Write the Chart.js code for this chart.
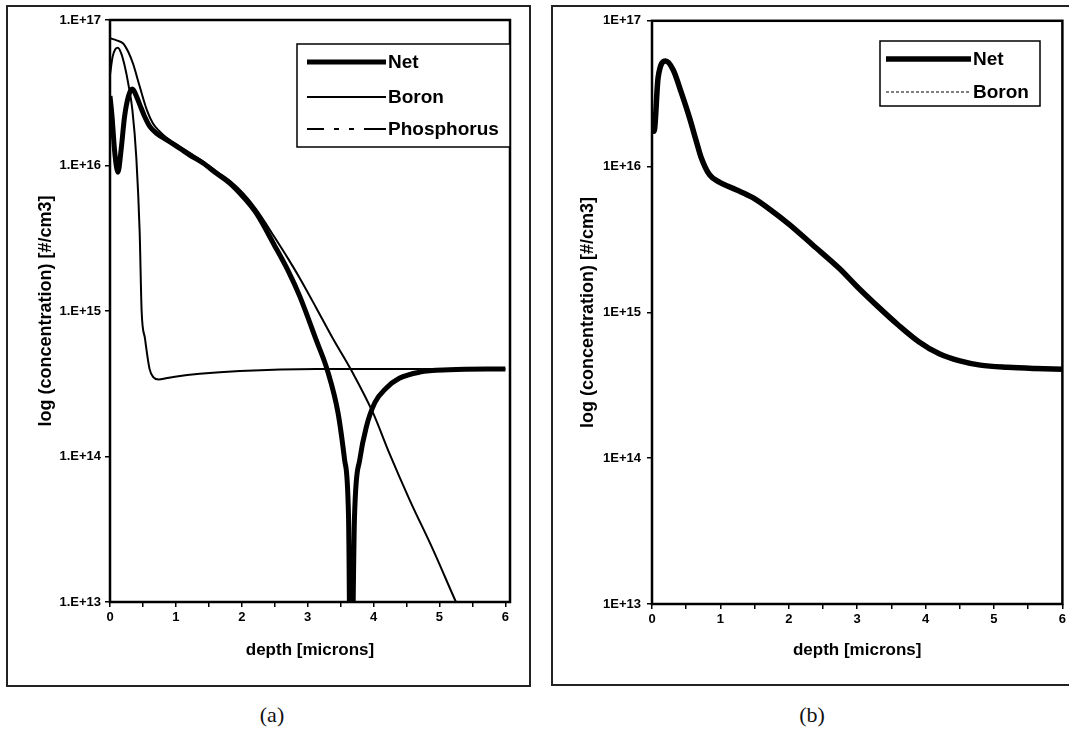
<!DOCTYPE html>
<html>
<head>
<meta charset="utf-8">
<script src="https://cdn.jsdelivr.net/npm/chart.js@4.4.1/dist/chart.umd.min.js"></script>
<style>
    body { margin: 0; background: #fff; width: 1069px; height: 729px; overflow: hidden; position: relative; }
    .frame { position: absolute; border: 2px solid #222; box-sizing: border-box; }
    canvas { position: absolute; }
    .cap { position: absolute; font-family: 'Liberation Serif', 'DejaVu Serif', serif; font-size: 22px; color: #111; transform: translateX(-50%); }
</style>
</head>
<body>
<div class="frame" style="left:6px;top:5px;width:525px;height:682px"></div>
<div class="frame" style="left:551px;top:5px;width:530px;height:681px"></div>
<canvas id="chartA" width="520" height="676" style="left:8px;top:7px"></canvas>
<canvas id="chartB" width="516" height="676" style="left:553px;top:7px"></canvas>
<div class="cap" style="left:272px;top:702px">(a)</div>
<div class="cap" style="left:812px;top:702px">(b)</div>
<script>
// tick labels
const xTicks = [0, 0.5, 1, 1.5, 2, 2.5, 3, 3.5, 4, 4.5, 5, 5.5, 6];
const yTicks = [1e13, 1e14, 1e15, 1e16, 1e17];

// (a) net concentration [#/cm3] vs depth [microns]
const depthNetA = [0, 0.03, 0.07, 0.12, 0.17, 0.22, 0.28, 0.34, 0.40, 0.455, 0.52, 0.606, 0.71, 0.86,
    1.06, 1.21, 1.41, 1.62, 1.82, 2.02, 2.22, 2.5, 2.7, 2.88, 3.13, 3.30, 3.46, 3.56, 3.62, 3.655,
    3.71, 3.79, 3.89, 4.02, 4.19, 4.39, 4.70, 5.15, 6.0];
const netA = [3.0e16, 2.2e16, 1.26e16, 9.0e15, 1.3e16, 2.15e16, 3.0e16, 3.35e16, 3.0e16, 2.6e16, 2.2e16, 1.85e16, 1.66e16, 1.5e16,
    1.31e16, 1.18e16, 1.04e16, 8.8e15, 7.55e15, 6.1e15, 4.7e15, 2.8e15, 1.9e15, 1.26e15, 6.3e14, 3.9e14, 2.0e14, 9.5e13, 3.8e13, 1e12,
    3.8e13, 9.5e13, 1.6e14, 2.35e14, 2.95e14, 3.45e14, 3.8e14, 3.94e14, 4.0e14];

// (a) boron
const depthBoronA = [0, 0.04, 0.08, 0.12, 0.17, 0.22, 0.28, 0.34, 0.40, 0.45, 0.48, 0.53, 0.60, 0.66, 0.74,
    0.85, 1.01, 1.36, 1.97, 3.13, 6.0];
const boronA = [4.2e16, 5.6e16, 6.3e16, 6.45e16, 5.9e16, 4.9e16, 3.6e16, 2.4e16, 1.12e16, 3.5e15, 1.0e15, 6.5e14, 4.0e14, 3.5e14, 3.38e14,
    3.45e14, 3.55e14, 3.7e14, 3.87e14, 4.0e14, 4.0e14];

// (a) phosphorus
const depthPhosA = [0, 0.1, 0.2, 0.28, 0.35, 0.45, 0.56, 0.65, 0.75, 0.86, 1.06, 1.21, 1.41, 1.62, 1.82, 2.02,
    2.22, 2.5, 2.7, 2.88, 3.13, 3.38, 3.66, 3.99, 4.24, 4.55, 4.90, 5.25, 5.6];
const phosA = [7.5e16, 7.25e16, 6.9e16, 6.0e16, 5.0e16, 3.5e16, 2.4e16, 1.95e16, 1.72e16, 1.55e16, 1.35e16, 1.22e16, 1.07e16, 9.1e15, 7.85e15, 6.45e15,
    5.0e15, 3.2e15, 2.3e15, 1.68e15, 1.05e15, 6.5e14, 3.93e14, 2.0e14, 1.05e14, 5.0e13, 2.3e13, 1.0e13, 4.5e12];

// (b) net and boron lie on top of each other
const depthB = [0, 0.03, 0.09, 0.20, 0.31, 0.43, 0.55, 0.65, 0.72, 0.84, 0.99, 1.23, 1.48, 1.72, 2.01, 2.35, 2.74,
    3.0, 3.3, 3.6, 3.9, 4.2, 4.5, 4.8, 5.2, 5.6, 6.0];
const netB = [2.0e16, 1.75e16, 4.1e16, 5.3e16, 4.6e16, 3.2e16, 2.15e16, 1.48e16, 1.15e16, 8.8e15, 7.8e15, 6.95e15, 6.1e15, 5.1e15, 4.0e15, 2.9e15, 2.0e15,
    1.5e15, 1.1e15, 8.2e14, 6.3e14, 5.2e14, 4.65e14, 4.35e14, 4.2e14, 4.12e14, 4.07e14];
const boronB = [2.0e16, 1.75e16, 4.1e16, 5.3e16, 4.6e16, 3.2e16, 2.15e16, 1.48e16, 1.15e16, 8.8e15, 7.8e15, 6.95e15, 6.1e15, 5.1e15, 4.0e15, 2.9e15, 2.0e15,
    1.5e15, 1.1e15, 8.2e14, 6.3e14, 5.2e14, 4.65e14, 4.35e14, 4.2e14, 4.12e14, 4.07e14];

const sans = "'Liberation Sans', Arial, sans-serif";
const pts = (xs, ys) => xs.map((x, i) => ({ x, y: ys[i] }));

// border round the plot area
const plotFrame = {
    id: 'plotFrame',
    afterDatasetsDraw(chart) {
        const { ctx, chartArea: a } = chart;
        ctx.save();
        ctx.strokeStyle = '#000';
        ctx.lineWidth = 2.5;
        ctx.strokeRect(a.left, a.top, a.right - a.left, a.bottom - a.top);
        ctx.restore();
    }
};

// excel style legend: boxed, long line samples
const boxLegend = {
    id: 'boxLegend',
    afterDraw(chart, args, o) {
        const ctx = chart.ctx;
        ctx.save();
        ctx.fillStyle = '#fff';
        ctx.fillRect(o.x, o.y, o.w, o.h);
        ctx.strokeStyle = '#000';
        ctx.lineWidth = 1.5;
        ctx.strokeRect(o.x, o.y, o.w, o.h);
        ctx.font = `bold ${o.fontSize}px ${sans}`;
        ctx.textBaseline = 'middle';
        ctx.fillStyle = '#000';
        chart.data.datasets.forEach((ds, i) => {
            let y = o.rows[i];
            ctx.beginPath();
            ctx.lineWidth = ds.borderWidth;
            ctx.setLineDash(ds.legendDash || ds.borderDash || []);
            ctx.moveTo(o.lineX0, y);
            ctx.lineTo(o.lineX1, y);
            ctx.stroke();
            ctx.setLineDash([]);
            ctx.fillText(ds.label, o.textX, y + 1);
        });
        ctx.restore();
    }
};

function makeChart(id, datasets, cfg) {
    return new Chart(document.getElementById(id), {
        type: 'line',
        data: { datasets },
        plugins: [plotFrame, boxLegend],
        options: {
            responsive: false,
            animation: false,
            devicePixelRatio: 1,
            events: [],
            layout: { padding: cfg.padding },
            elements: {
                point: { radius: 0 },
                line: { cubicInterpolationMode: 'monotone', borderColor: '#000', borderJoinStyle: 'round' }
            },
            plugins: {
                legend: { display: false },
                tooltip: { enabled: false },
                boxLegend: cfg.legend
            },
            scales: {
                x: {
                    type: 'linear', min: 0, max: cfg.xMax,
                    afterBuildTicks: s => { s.ticks = xTicks.map(value => ({ value })); },
                    afterFit: s => { s.height = cfg.xHeight; },
                    border: { display: false },
                    grid: { drawOnChartArea: false, color: '#000', lineWidth: 1.5, tickLength: 5 },
                    ticks: {
                        color: '#000', maxRotation: 0, padding: 3, autoSkip: false,
                        font: { family: sans, size: 13, weight: 'bold' },
                        callback: v => Number.isInteger(v) ? String(v) : ''
                    },
                    title: {
                        display: true, text: 'depth [microns]', color: '#000',
                        font: { family: sans, size: 17, weight: 'bold' }, padding: { top: 0, bottom: 22 }
                    }
                },
                y: {
                    type: 'logarithmic', min: 1e13, max: 1e17,
                    afterBuildTicks: s => { s.ticks = yTicks.map(value => ({ value })); },
                    afterFit: s => { s.width = cfg.yWidth; },
                    border: { display: false },
                    grid: { drawOnChartArea: false, color: '#000', lineWidth: 1.5, tickLength: 5 },
                    ticks: {
                        color: '#000', padding: cfg.yPad, autoSkip: false,
                        font: { family: sans, size: 13, weight: 'bold' },
                        callback: v => cfg.yFmt + Math.round(Math.log10(v))
                    },
                    title: {
                        display: true, text: 'log (concentration) [#/cm3]', color: '#000',
                        font: { family: sans, size: 18, weight: 'bold' }, padding: { top: cfg.yTitlePad, bottom: 0 }
                    }
                }
            }
        }
    });
}

makeChart('chartA', [
    { label: 'Net', data: pts(depthNetA, netA), borderWidth: 5 },
    { label: 'Boron', data: pts(depthBoronA, boronA), borderWidth: 2 },
    { label: 'Phosphorus', data: pts(depthPhosA, phosA), borderWidth: 2, legendDash: [17, 10, 5, 10, 5, 10, 30] }
], {
    padding: { left: 0, top: 13, right: 18, bottom: 0 },
    xMax: 6.07, xHeight: 81, yWidth: 102, yPad: 4, yTitlePad: 27, yFmt: '1.E+',
    legend: { x: 289, y: 37, w: 213, h: 103, rows: [55, 90, 122], lineX0: 299, lineX1: 378, textX: 380, fontSize: 19 }
});

makeChart('chartB', [
    { label: 'Net', data: pts(depthB, netB), borderWidth: 5.5 },
    { label: 'Boron', data: pts(depthB, boronB), borderWidth: 1.2, borderDash: [3, 2] }
], {
    padding: { left: 0, top: 12, right: 5, bottom: 0 },
    xMax: 6, xHeight: 79, yWidth: 99, yPad: 6, yTitlePad: 24, yFmt: '1E+',
    legend: { x: 327, y: 34, w: 160, h: 65, rows: [52, 85], lineX0: 333, lineX1: 418, textX: 420, fontSize: 19 }
});
</script>
</body>
</html>
